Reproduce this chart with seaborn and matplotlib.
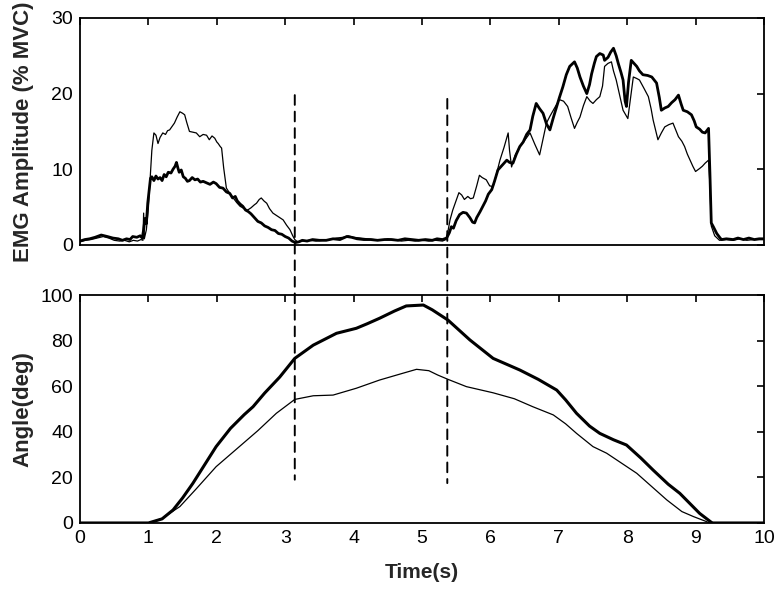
import numpy as np
import pandas as pd
import seaborn as sns
import matplotlib
matplotlib.use('Agg')
import matplotlib.pyplot as plt
from matplotlib.patches import ConnectionPatch

# EMG amplitude, thick trace (% MVC)
emg_thick_t = [0.00, 0.07, 0.14, 0.22, 0.31, 0.40, 0.48, 0.56, 0.62, 0.68, 0.73, 0.77, 0.83, 0.88, 0.91,
               0.93, 0.95, 0.97, 0.99, 1.01, 1.03, 1.05, 1.08, 1.11, 1.14, 1.17, 1.20, 1.23, 1.26, 1.29,
               1.33, 1.36, 1.39, 1.41, 1.43, 1.45, 1.48, 1.51, 1.54, 1.57, 1.60, 1.64, 1.68, 1.72, 1.76,
               1.80, 1.85, 1.90, 1.95, 1.99, 2.04, 2.09, 2.14, 2.19, 2.23, 2.27, 2.30, 2.34, 2.38, 2.42,
               2.46, 2.50, 2.55, 2.60, 2.65, 2.70, 2.75, 2.80, 2.85, 2.90, 2.95, 3.00, 3.05, 3.10, 3.15,
               3.20, 3.25, 3.32, 3.40, 3.50, 3.60, 3.70, 3.80, 3.90, 3.97, 4.05, 4.15, 4.25, 4.35, 4.45,
               4.55, 4.65, 4.75, 4.85, 4.95, 5.05, 5.15, 5.22, 5.30, 5.36, 5.40, 5.43, 5.46, 5.50, 5.55,
               5.60, 5.65, 5.70, 5.74, 5.77, 5.80, 5.85, 5.89, 5.93, 5.97, 6.02, 6.06, 6.11, 6.15, 6.20,
               6.24, 6.28, 6.33, 6.38, 6.43, 6.48, 6.53, 6.58, 6.62, 6.67, 6.72, 6.77, 6.82, 6.87, 6.92,
               6.97, 7.01, 7.06, 7.11, 7.16, 7.23, 7.27, 7.31, 7.36, 7.41, 7.45, 7.48, 7.52, 7.55, 7.60,
               7.65, 7.67, 7.72, 7.76, 7.80, 7.84, 7.87, 7.91, 7.94, 7.97, 7.99, 8.02, 8.06, 8.10, 8.14,
               8.18, 8.23, 8.30, 8.36, 8.43, 8.47, 8.50, 8.55, 8.60, 8.65, 8.70, 8.75, 8.79, 8.82, 8.88,
               8.94, 8.98, 9.01, 9.06, 9.10, 9.14, 9.19, 9.21, 9.23, 9.26, 9.31, 9.36, 9.38, 9.45, 9.55,
               9.62, 9.70, 9.78, 9.86, 9.93, 10.00]
emg_thick = [0.5, 0.7, 0.8, 1.0, 1.3, 1.1, 0.9, 0.8, 0.6, 0.8, 0.7, 1.1, 1.0, 1.2, 0.9,
             2.0, 3.5, 2.8, 5.5, 7.2, 8.8, 9.0, 8.5, 9.1, 8.7, 8.9, 8.5, 9.3, 9.0, 9.6,
             9.5, 10.0, 10.4, 10.9, 10.2, 9.6, 9.9, 9.0, 8.8, 8.4, 8.5, 8.9, 8.6, 8.7, 8.3,
             8.4, 8.2, 8.0, 8.3, 8.1, 7.6, 7.5, 7.0, 6.8, 6.2, 6.4, 5.8, 5.4, 5.1, 4.6,
             4.4, 4.1, 3.6, 3.1, 2.9, 2.5, 2.3, 2.0, 1.9, 1.5, 1.4, 1.1, 0.9, 0.5, 0.3,
             0.4, 0.6, 0.5, 0.7, 0.6, 0.6, 0.8, 0.7, 1.1, 1.0, 0.8, 0.7, 0.7, 0.6, 0.7,
             0.7, 0.6, 0.8, 0.7, 0.6, 0.7, 0.6, 0.8, 0.7, 0.9, 1.6, 2.4, 2.2, 3.2, 4.0,
             4.3, 4.2, 3.6, 3.0, 2.9, 3.6, 4.4, 5.1, 5.8, 6.7, 7.3, 8.4, 9.9, 10.3, 10.8,
             11.2, 10.9, 10.8, 12.0, 13.0, 13.6, 14.6, 15.2, 17.0, 18.7, 18.0, 17.4, 16.0, 15.2, 16.8,
             18.3, 19.5, 20.9, 22.5, 23.6, 24.2, 23.4, 22.2, 21.0, 20.0, 21.2, 22.6, 24.0, 24.9, 25.3,
             25.1, 24.4, 24.8, 25.5, 26.0, 25.0, 24.0, 22.8, 21.8, 19.0, 18.3, 21.5, 24.4, 24.0, 23.6,
             23.0, 22.5, 22.4, 22.2, 21.4, 19.5, 17.8, 18.1, 18.3, 18.8, 19.2, 19.8, 18.6, 17.8, 17.6,
             17.2, 16.4, 15.6, 15.3, 14.9, 14.8, 15.4, 9.5, 2.9, 2.4, 1.5, 0.9, 0.7, 0.8, 0.7,
             0.9, 0.7, 0.9, 0.7, 0.8, 0.8]

# EMG amplitude, thin trace (% MVC)
emg_thin_t = [0.00, 0.08, 0.16, 0.25, 0.34, 0.42, 0.50, 0.58, 0.65, 0.72, 0.78, 0.84, 0.89, 0.92, 0.93,
              0.94, 0.97, 1.00, 1.03, 1.05, 1.08, 1.11, 1.14, 1.17, 1.21, 1.25, 1.28, 1.31, 1.35, 1.38,
              1.42, 1.46, 1.50, 1.53, 1.56, 1.60, 1.65, 1.70, 1.75, 1.80, 1.85, 1.89, 1.93, 1.97, 2.00,
              2.02, 2.05, 2.07, 2.10, 2.14, 2.19, 2.24, 2.29, 2.34, 2.40, 2.45, 2.50, 2.55, 2.58, 2.62,
              2.65, 2.69, 2.73, 2.77, 2.82, 2.87, 2.92, 2.97, 3.02, 3.07, 3.11, 3.14, 3.18, 3.25, 3.35,
              3.45, 3.55, 3.65, 3.75, 3.85, 3.92, 4.00, 4.10, 4.20, 4.30, 4.40, 4.50, 4.60, 4.70, 4.80,
              4.90, 5.00, 5.10, 5.20, 5.30, 5.35, 5.38, 5.41, 5.45, 5.50, 5.54, 5.58, 5.62, 5.67, 5.71,
              5.75, 5.80, 5.84, 5.88, 5.94, 5.99, 6.04, 6.09, 6.14, 6.20, 6.26, 6.28, 6.31, 6.36, 6.43,
              6.50, 6.58, 6.65, 6.72, 6.77, 6.82, 6.87, 6.92, 6.97, 7.01, 7.07, 7.13, 7.18, 7.23, 7.27,
              7.31, 7.36, 7.41, 7.46, 7.50, 7.55, 7.60, 7.64, 7.67, 7.72, 7.77, 7.80, 7.84, 7.89, 7.94,
              8.01, 8.05, 8.09, 8.14, 8.18, 8.24, 8.31, 8.35, 8.38, 8.42, 8.45, 8.50, 8.55, 8.61, 8.67,
              8.71, 8.75, 8.80, 8.84, 8.88, 8.92, 8.96, 9.00, 9.03, 9.06, 9.10, 9.14, 9.19, 9.21, 9.23,
              9.28, 9.35, 9.45, 9.55, 9.65, 9.75, 9.85, 10.00]
emg_thin = [0.4, 0.6, 0.7, 0.9, 1.1, 0.9, 0.6, 0.5, 0.6, 0.4, 0.6, 0.5, 0.7, 0.6, 4.2,
            0.8, 2.0, 5.0, 9.5, 12.5, 14.8, 14.5, 13.4, 14.2, 14.8, 14.6, 15.1, 15.2, 15.7, 16.1,
            16.9, 17.6, 17.4, 17.2, 16.2, 15.0, 14.9, 14.8, 14.3, 14.6, 14.5, 13.9, 14.4, 14.1, 13.6,
            13.4, 13.0, 12.8, 10.2, 7.5, 6.8, 6.2, 5.6, 5.1, 4.8, 4.6, 4.9, 5.3, 5.5, 6.0,
            6.2, 5.8, 5.5, 4.8, 4.2, 3.9, 3.6, 3.3, 2.6, 2.0, 1.2, 0.7, 0.4, 0.5, 0.6,
            0.5, 0.6, 0.7, 0.9, 1.0, 1.2, 1.0, 0.9, 0.8, 0.7, 0.6, 0.8, 0.7, 0.5, 0.6,
            0.5, 0.6, 0.5, 0.6, 0.5, 0.7, 1.8, 3.3, 4.6, 5.9, 6.9, 6.6, 6.0, 6.4, 6.1,
            6.2, 7.8, 9.2, 8.9, 8.6, 7.8, 7.7, 9.4, 11.2, 12.9, 14.8, 12.5, 10.3, 11.8, 13.0,
            13.8, 14.8, 13.3, 11.9, 14.0, 16.1, 17.0, 17.8, 18.6, 19.2, 19.0, 18.3, 16.8, 15.4, 16.2,
            16.9, 18.4, 19.6, 19.0, 18.7, 19.2, 19.6, 21.0, 23.6, 24.0, 24.2, 23.0, 21.8, 19.8, 17.8,
            16.7, 19.5, 22.2, 22.0, 21.8, 20.8, 19.6, 18.0, 16.5, 15.0, 13.9, 14.8, 15.6, 15.9, 16.1,
            15.2, 14.3, 13.7, 13.0, 12.0, 11.2, 10.4, 9.7, 9.9, 10.1, 10.4, 10.8, 11.2, 8.0, 2.5,
            1.2, 0.6, 0.7, 0.6, 0.8, 0.6, 0.7, 0.7]

# Joint angle (deg)
angle_thick_t = [0.0, 1.0, 1.2, 1.36, 1.5, 1.65, 1.8, 1.99, 2.2, 2.4, 2.53, 2.7, 2.92, 3.14, 3.41,
                 3.75, 4.04, 4.2, 4.38, 4.6, 4.77, 5.02, 5.15, 5.38, 5.7, 6.04, 6.43, 6.7, 6.97, 7.1,
                 7.26, 7.45, 7.6, 7.8, 7.99, 8.2, 8.38, 8.6, 8.77, 9.06, 9.23, 9.25, 10.0]
angle_thick = [0, 0, 1.8, 5.7, 11, 17.4, 24.5, 33.5, 41.5, 47.5, 51, 57, 64, 72.2, 78,
               83.2, 85.4, 87.4, 89.8, 93, 95.2, 95.6, 93.5, 89, 80.3, 72.2, 67.1, 63, 58.3, 54,
               48.1, 42.5, 39.3, 36.5, 34.2, 28.5, 23.2, 17, 13, 4.2, 0.3, 0, 0]
angle_thin_t = [0.0, 1.0, 1.2, 1.46, 1.7, 1.99, 2.33, 2.6, 2.87, 3.14, 3.41, 3.7, 4.04, 4.38, 4.7,
                4.92, 5.1, 5.23, 5.38, 5.65, 6.04, 6.35, 6.62, 6.92, 7.1, 7.26, 7.5, 7.7, 8.14, 8.58,
                8.8, 8.97, 9.16, 9.2, 10.0]
angle_thin = [0, 0, 2, 7.2, 15, 24.7, 33.5, 40.5, 48.1, 54.2, 55.8, 56.1, 59.1, 62.7, 65.5,
              67.4, 66.8, 64.9, 63, 59.8, 57.1, 54.5, 51, 47.4, 43.5, 39.3, 33.5, 30.6, 21.8, 10.1,
              5, 2.8, 0.6, 0, 0]

# dashed markers: (time, y in top panel, y in bottom panel)
marker_t = [3.14, 5.37]
marker_top = [19.8, 19.3]
marker_bottom = [19.0, 17.5]

sns.set_style('white')
plt.rcParams['font.family'] = ['Liberation Sans', 'DejaVu Sans']

fig = plt.figure(figsize=(7.74, 5.9), dpi=100)
ax1 = fig.add_axes([0.1034, 0.585, 0.8836, 0.3845])
ax2 = fig.add_axes([0.1034, 0.1136, 0.8836, 0.3864])

sns.lineplot(x=emg_thin_t, y=emg_thin, ax=ax1, color='black', linewidth=0.9)
sns.lineplot(x=emg_thick_t, y=emg_thick, ax=ax1, color='black', linewidth=2.0)
sns.lineplot(x=angle_thin_t, y=angle_thin, ax=ax2, color='black', linewidth=0.9)
sns.lineplot(x=angle_thick_t, y=angle_thick, ax=ax2, color='black', linewidth=2.2)

ax1.set_xlim(0, 10)
ax1.set_ylim(0, 30)
ax1.set_yticks([0, 10, 20, 30])
ax1.set_xticks(range(0, 11))
ax1.set_xticklabels([])
ax2.set_xlim(0, 10)
ax2.set_ylim(0, 100)
ax2.set_yticks([0, 20, 40, 60, 80, 100])
ax2.set_xticks(range(0, 11))

for ax in (ax1, ax2):
    for sp in ax.spines.values():
        sp.set_visible(True)
        sp.set_color('black')
        sp.set_linewidth(1.3)
    ax.tick_params(direction='in', length=5, width=1.2, top=True, right=True,
                   labelsize=14, colors='black', pad=5)

ax1.set_ylabel('EMG Amplitude (% MVC)', fontsize=16, fontweight='bold')
ax1.yaxis.set_label_coords(-0.068, 0.5)
ax2.set_ylabel('Angle(deg)', fontsize=16, fontweight='bold')
ax2.yaxis.set_label_coords(-0.068, 0.5)
ax2.set_xlabel('Time(s)', fontsize=15, fontweight='bold')
ax2.xaxis.set_label_coords(0.5, -0.175)

for t, ya, yb in zip(marker_t, marker_top, marker_bottom):
    con = ConnectionPatch(xyA=(t, ya), coordsA=ax1.transData, xyB=(t, yb), coordsB=ax2.transData,
                          color='black', linewidth=1.4, linestyle=(0, (5, 3.5)))
    fig.add_artist(con)

fig.savefig('out.png', dpi=100)
